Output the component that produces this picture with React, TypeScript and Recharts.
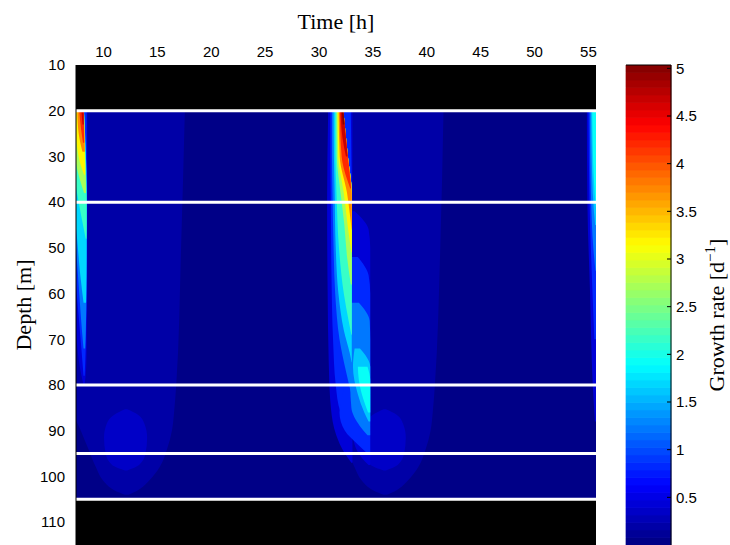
import {
  Area,
  Bar,
  ComposedChart,
  Label,
  ReferenceArea,
  ReferenceLine,
  XAxis,
  YAxis,
} from "recharts";

// depth [m], left edge [h], right edge [h] of a filled contour level
type Row = [number, number, number];
interface Band {
  v: number; // growth rate inside the level, d^-1
  rows: Row[];
}

const TIME_TICKS = [10, 15, 20, 25, 30, 35, 40, 45, 50, 55];
const DEPTH_TICKS = [10, 20, 30, 40, 50, 60, 70, 80, 90, 100, 110];
const RATE_TICKS = [0.5, 1, 1.5, 2, 2.5, 3, 3.5, 4, 4.5, 5];
const LAYER_DEPTHS = [20, 40, 80, 95, 105];
const MASKED_DEPTHS: [number, number][] = [
  [10, 20],
  [105, 115],
];

const T_MIN = 7.45;
const T_MAX = 55.7;
const D_MIN = 10;
const D_MAX = 115;
const RATE_MAX = 5.035;
const N_COLORS = 64;

const BACKGROUND: Band[] = [
  { v: 0.07, rows: [[20, 7, 56], [105, 7, 56]] },
];

const DAY_ZONES: Band[] = [
  {
    v: 0.2,
    rows: [
      [20, 7, 17.55], [50, 7, 17.2], [80, 7, 16.75], [86, 7.2, 16.55],
      [90, 7.9, 16.35], [94, 8.6, 15.9], [98, 9.3, 15.2], [101, 10, 14.2],
      [103, 11, 13.2], [104, 12, 12.3],
    ],
  },
  {
    v: 0.2,
    rows: [
      [20, 30.9, 41.55], [50, 30.9, 41.25], [80, 31, 40.75], [86, 31.2, 40.55],
      [90, 31.9, 40.35], [94, 32.6, 39.9], [98, 33.3, 39.2], [101, 34, 38.2],
      [103, 35, 37.2], [104, 36, 36.3],
    ],
  },
];

const DEEP_BLOBS: Band[] = [
  {
    v: 0.32,
    rows: [
      [85.3, 12, 12.2], [86.5, 11, 13.2], [88.5, 10.3, 13.8], [91.5, 10.05, 14.05],
      [95, 10.2, 13.9], [97.5, 10.8, 13.3], [98.7, 12, 12.2],
    ],
  },
  {
    v: 0.32,
    rows: [
      [85.3, 36, 36.2], [86.5, 35, 37.2], [88.5, 34.3, 37.8], [91.5, 34.05, 38.05],
      [95, 34.2, 37.9], [97.5, 34.8, 37.3], [98.7, 36, 36.2],
    ],
  },
];

const STREAK_A: Band[] = [
  { v: 0.45, rows: [[20, 7, 8.5], [40, 7, 8.5], [60, 7.2, 8.48], [70, 7.5, 8.45], [76, 7.8, 8.4], [80, 8.15, 8.25]] },
  { v: 0.8, rows: [[20, 7, 8.44], [40, 7, 8.44], [55, 7.35, 8.44], [65, 7.7, 8.4], [72, 7.95, 8.35], [78, 8.15, 8.25]] },
  { v: 1.2, rows: [[20, 7, 8.19], [38, 7, 8.44], [50, 7.45, 8.44], [60, 7.75, 8.42], [68, 8, 8.36], [72, 8.15, 8.3]] },
  { v: 1.7, rows: [[20, 7, 8.19], [38, 7.15, 8.44], [48, 7.55, 8.44], [56, 7.85, 8.42], [62, 8.15, 8.38]] },
  { v: 2.2, rows: [[20, 7, 8.19], [34, 7.3, 8.38], [40, 7.7, 8.44], [45, 8.1, 8.44], [48, 8.35, 8.42]] },
  { v: 2.7, rows: [[20, 7.1, 8.19], [30, 7.35, 8.3], [35, 7.8, 8.36], [38, 8.2, 8.38]] },
  { v: 3.2, rows: [[20, 7.3, 8.19], [27, 7.5, 8.25], [32, 7.9, 8.3], [34, 8.2, 8.3]] },
  { v: 3.7, rows: [[20, 7.57, 8.19], [25, 7.7, 8.23], [29, 8.05, 8.27]] },
  { v: 4.2, rows: [[20, 7.75, 8.18], [24, 7.92, 8.2], [27, 8.1, 8.22]] },
  { v: 4.7, rows: [[20, 7.95, 8.15], [23, 8.05, 8.17]] },
];

const STREAK_B: Band[] = [
  { v: 0.45, rows: [[20, 30.85, 33.1], [40, 30.75, 33.1], [60, 30.8, 33.1], [75, 30.9, 33.1], [85, 31.1, 33.1], [91, 31.6, 33.1], [95, 32.4, 33.1], [97, 33, 33.1]] },
  { v: 0.8, rows: [[20, 31.05, 32.95], [30, 31.05, 33], [40, 31.1, 33.04], [55, 31.15, 33.04], [70, 31.3, 33.04], [80, 31.55, 33.04], [86, 32, 33.04], [89, 32.7, 33.04]] },
  { v: 1.2, rows: [[20, 31.2, 32.26], [30, 31.2, 32.68], [38, 31.25, 33.04], [50, 31.35, 33.04], [60, 31.5, 33.04], [70, 31.9, 33.04], [77, 32.5, 33.04], [82, 33, 33.04]] },
  { v: 1.7, rows: [[20, 31.35, 32.26], [30, 31.38, 32.68], [38, 31.45, 33.04], [50, 31.55, 33.04], [60, 31.8, 33.04], [68, 32.3, 33.04], [73, 32.85, 33.04], [75, 33.02, 33.04]] },
  { v: 2.2, rows: [[20, 31.5, 32.26], [30, 31.52, 32.68], [38, 31.62, 33.04], [50, 31.85, 33.04], [60, 32.3, 33.04], [66, 32.75, 33.04], [69, 33, 33.04]] },
  { v: 2.7, rows: [[20, 31.62, 32.26], [30, 31.65, 32.68], [38, 32, 33.04], [45, 32.35, 33.04], [52, 32.6, 33.04], [58, 32.95, 33.04]] },
  { v: 3.2, rows: [[20, 31.72, 32.26], [30, 31.78, 32.68], [38, 32.3, 33.04], [45, 32.65, 33.04], [51, 33, 33.04]] },
  { v: 3.7, rows: [[20, 31.82, 32.26], [30, 31.92, 32.68], [38, 32.6, 33.04], [43, 32.88, 33.04], [46, 33.02, 33.04]] },
  { v: 4.2, rows: [[20, 31.92, 32.26], [30, 32.1, 32.68], [35, 32.6, 32.9], [37, 32.9, 32.97]] },
  { v: 4.7, rows: [[20, 32, 32.26], [26, 32.18, 32.5], [30, 32.5, 32.66]] },
  { v: 5.0, rows: [[20, 32.1, 32.26], [23, 32.2, 32.37]] },
];

const LOBE_B: Band[] = [
  { v: 0.45, rows: [[42, 33.04, 33.3], [46, 33.04, 34.6], [50, 33.04, 34.75], [80, 33.04, 34.75], [88, 33, 34.75], [93, 33.3, 34.75], [96, 34, 34.75], [97.5, 34.6, 34.75]] },
  { v: 0.8, rows: [[52, 33.04, 33.6], [56, 33.04, 34.6], [60, 33.04, 34.75], [82, 32.2, 34.75], [86, 31.9, 34.75], [90, 32.4, 34.75], [93, 33.6, 34.75], [95, 34.5, 34.75]] },
  { v: 1.2, rows: [[62, 33.04, 33.7], [66, 33.04, 34.7], [70, 33.04, 34.75], [80, 32.9, 34.75], [85, 33, 34.75], [89, 33.8, 34.75], [91, 34.5, 34.75]] },
  { v: 1.6, rows: [[72, 33.3, 33.8], [76, 33.15, 34.75], [82, 33.6, 34.75], [86, 34.2, 34.75], [88, 34.6, 34.75]] },
  { v: 1.9, rows: [[76, 33.6, 34.5], [79, 33.7, 34.75], [83, 34.1, 34.75], [86, 34.55, 34.75]] },
];

const STREAK_C: Band[] = [
  { v: 0.45, rows: [[20, 54.85, 56], [40, 54.9, 56], [60, 55.15, 56], [80, 55.4, 56], [88, 55.6, 56]] },
  { v: 0.8, rows: [[20, 55, 56], [40, 55.1, 56], [55, 55.3, 56], [70, 55.55, 56]] },
  { v: 1.2, rows: [[20, 55.12, 56], [40, 55.25, 56], [50, 55.45, 56], [55, 55.65, 56]] },
  { v: 1.6, rows: [[20, 55.25, 56], [38, 55.4, 56], [45, 55.62, 56]] },
  { v: 1.9, rows: [[20, 55.35, 56], [35, 55.5, 56], [41, 55.68, 56]] },
];

// contourf-style: higher levels painted on top
const LEVELS = [
  ...BACKGROUND,
  ...DAY_ZONES,
  ...DEEP_BLOBS,
  ...STREAK_A,
  ...STREAK_B,
  ...LOBE_B,
  ...STREAK_C,
].sort((a, b) => a.v - b.v);

// colour bar: one stacked column, one segment per colormap entry
const COLOR_STEPS = Array.from({ length: N_COLORS }, (_, i) => i);
const COLORBAR_DATA = [
  Object.fromEntries([
    ["name", "rate"],
    ...COLOR_STEPS.map((i) => [`c${i}`, RATE_MAX / N_COLORS]),
  ]),
];

function jetIndex(idx: number) {
  const q = (idx + 0.5) / N_COLORS;
  const ch = (c: number) =>
    Math.round(255 * Math.max(0, Math.min(1, 1.5 - Math.abs(4 * q - c))));
  return `rgb(${ch(3)},${ch(2)},${ch(1)})`;
}

function jet(v: number) {
  const idx = Math.floor((v / RATE_MAX) * N_COLORS);
  return jetIndex(Math.max(0, Math.min(N_COLORS - 1, idx)));
}

const tickStyle = {
  fill: "#000",
  fontSize: 15,
  fontFamily: "'Liberation Sans', Arial, sans-serif",
};
const titleFont = "'Liberation Serif', 'Times New Roman', serif";

function DepthTitle({ viewBox }: any) {
  const cx = viewBox.x - 5;
  const cy = viewBox.y + viewBox.height / 2;
  return (
    <text
      x={cx}
      y={cy}
      transform={`rotate(-90 ${cx} ${cy})`}
      textAnchor="middle"
      fontFamily={titleFont}
      fontSize={22}
      fill="#000"
    >
      Depth [m]
    </text>
  );
}

function RateTitle({ viewBox }: any) {
  const cx = viewBox.x + 53;
  const cy = viewBox.y + viewBox.height / 2 + 10;
  return (
    <text
      x={cx}
      y={cy}
      transform={`rotate(-90 ${cx} ${cy})`}
      textAnchor="middle"
      fontFamily={titleFont}
      fontSize={22}
      fill="#000"
    >
      Growth rate [d
      <tspan dy={-9} fontSize={15}>
        −1
      </tspan>
      <tspan dy={9}>]</tspan>
    </text>
  );
}

export default function App() {
  return (
    <div
      style={{
        position: "absolute",
        left: 0,
        top: 0,
        width: 730,
        height: 545,
        background: "#fff",
        overflow: "hidden",
      }}
    >
      <div style={{ position: "absolute", left: 0, top: 0 }}>
        <ComposedChart
          width={600}
          height={545}
          layout="vertical"
          margin={{ top: 35, right: 4, bottom: 0, left: 36 }}
        >
          <XAxis
            type="number"
            orientation="top"
            domain={[T_MIN, T_MAX]}
            ticks={TIME_TICKS}
            interval={0}
            allowDataOverflow
            height={30}
            tickLine={false}
            axisLine={false}
            tickMargin={2}
            tick={tickStyle}
          >
            <Label
              value="Time [h]"
              position="top"
              offset={6.5}
              style={{ fontFamily: titleFont, fontSize: 22, fill: "#000" }}
            />
          </XAxis>
          <YAxis
            type="number"
            dataKey="d"
            domain={[D_MIN, D_MAX]}
            ticks={DEPTH_TICKS}
            interval={0}
            allowDataOverflow
            width={40}
            tickLine={false}
            axisLine={{ stroke: "#000" }}
            tickMargin={5}
            tick={tickStyle}
          >
            <Label content={DepthTitle} />
          </YAxis>
          {LEVELS.map((band, i) => (
            <Area
              key={i}
              data={band.rows.map(([d, l, r]) => ({ d, t: [l, r] }))}
              dataKey="t"
              type="monotone"
              fill={jet(band.v)}
              fillOpacity={1}
              stroke="none"
              activeDot={false}
              isAnimationActive={false}
            />
          ))}
          {MASKED_DEPTHS.map(([y1, y2]) => (
            <ReferenceArea
              key={y1}
              y1={y1}
              y2={y2}
              fill="#000"
              fillOpacity={1}
              stroke="none"
            />
          ))}
          {LAYER_DEPTHS.map((d) => (
            <ReferenceLine key={d} y={d} stroke="#fff" strokeWidth={3} />
          ))}
        </ComposedChart>
      </div>
      <div style={{ position: "absolute", left: 600, top: 0 }}>
        <ComposedChart
          width={130}
          height={545}
          data={COLORBAR_DATA}
          barCategoryGap={0}
          barGap={0}
          margin={{ top: 65, right: 0, bottom: 0, left: 26 }}
        >
          <XAxis dataKey="name" type="category" hide />
          <YAxis
            type="number"
            orientation="right"
            domain={[0, RATE_MAX]}
            ticks={RATE_TICKS}
            interval={0}
            allowDataOverflow
            width={59}
            tickSize={-4}
            tickLine={{ stroke: "#000" }}
            axisLine={{ stroke: "#000" }}
            tickMargin={9}
            tick={tickStyle}
          >
            <Label content={RateTitle} />
          </YAxis>
          <YAxis
            yAxisId="inner"
            type="number"
            orientation="left"
            domain={[0, RATE_MAX]}
            ticks={RATE_TICKS}
            interval={0}
            allowDataOverflow
            width={0}
            tickSize={-4}
            tickLine={{ stroke: "#000" }}
            axisLine={{ stroke: "#000" }}
            tick={false}
          />
          {COLOR_STEPS.map((i) => (
            <Bar
              key={i}
              dataKey={`c${i}`}
              stackId="bar"
              fill={jetIndex(i)}
              stroke={jetIndex(i)}
              strokeWidth={0.7}
              isAnimationActive={false}
            />
          ))}
          <ReferenceLine y={RATE_MAX} stroke="#000" ifOverflow="extendDomain" />
        </ComposedChart>
      </div>
    </div>
  );
}
